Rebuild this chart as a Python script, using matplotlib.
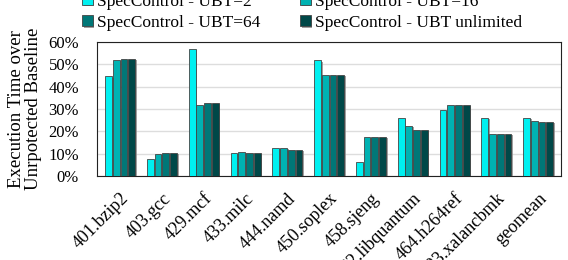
import numpy as np
import matplotlib
matplotlib.use('Agg')
import matplotlib.pyplot as plt
import matplotlib.patheffects as pe

benchmarks = ["401.bzip2", "403.gcc", "429.mcf", "433.milc", "444.namd", "450.soplex",
              "458.sjeng", "462.libquantum", "464.h264ref", "483.xalancbmk", "geomean"]
series = ["SpecControl - UBT=2", "SpecControl - UBT=16",
          "SpecControl - UBT=64", "SpecControl - UBT unlimited"]
ubt2 = [44.6, 7.5, 57.0, 10.2, 12.6, 51.8, 6.1, 26.0, 29.5, 25.9, 25.9]
ubt16 = [52.1, 9.7, 31.7, 10.6, 12.6, 45.2, 17.5, 22.3, 31.7, 18.7, 24.7]
ubt64 = [52.4, 10.2, 32.6, 10.2, 11.7, 45.4, 17.7, 20.8, 31.7, 18.7, 24.4]
ubt_unl = [52.4, 10.2, 32.6, 10.2, 11.7, 45.4, 17.7, 20.8, 31.7, 18.7, 24.4]
colors = ["#00F0F0", "#00B2B2", "#007777", "#004848"]

plt.rcParams['font.family'] = ['Liberation Serif', 'DejaVu Serif']

fig = plt.figure(figsize=(5.68, 2.6), dpi=100)
ax = fig.add_axes([0.171, 0.323, 0.817, 0.515])

x = np.arange(len(benchmarks))
w = 0.185
shadow = [pe.SimplePatchShadow(offset=(1.2, -0.8), shadow_rgbFace='#888888', alpha=0.8), pe.Normal()]
handles = []
for i, (vals, name) in enumerate(zip([ubt2, ubt16, ubt64, ubt_unl], series)):
    b = ax.bar(x + (i - 1.5) * w, vals, w * 0.88, color=colors[i], edgecolor='#444444',
               linewidth=0.6, label=name, path_effects=shadow, zorder=3)
    handles.append(b)

ax.set_xlim(-0.55, len(benchmarks) - 0.45)
ax.set_ylim(0, 60)
ax.set_yticks(range(0, 61, 10))
ax.set_yticklabels(["%d%%" % v for v in range(0, 61, 10)], fontsize=12)
ax.set_xticks(x)
ax.set_xticklabels(benchmarks, rotation=45, ha='right', rotation_mode='anchor', fontsize=13)
ax.tick_params(axis='y', length=0, pad=13)
ax.tick_params(axis='x', length=0, pad=10)
ax.grid(axis='y', color='#dddddd', linewidth=1, zorder=0)
for s in ax.spines.values():
    s.set_color('#222222')
ax.set_ylabel("Execution Time over\nUnrpotected Baseline", fontsize=13.5, linespacing=1.05)
ax.yaxis.set_label_coords(-0.118, 0.5)

# row-wise legend order: matplotlib fills columns first
order = [0, 2, 1, 3]
fig.legend([handles[i] for i in order], [series[i] for i in order],
           loc='center', bbox_to_anchor=(0.532, 0.952), ncol=2, frameon=False,
           fontsize=12.5, handlelength=0.6, handleheight=0.6, handletextpad=0.25,
           columnspacing=2.3, labelspacing=0.3)

fig.savefig("out.png", dpi=100)
